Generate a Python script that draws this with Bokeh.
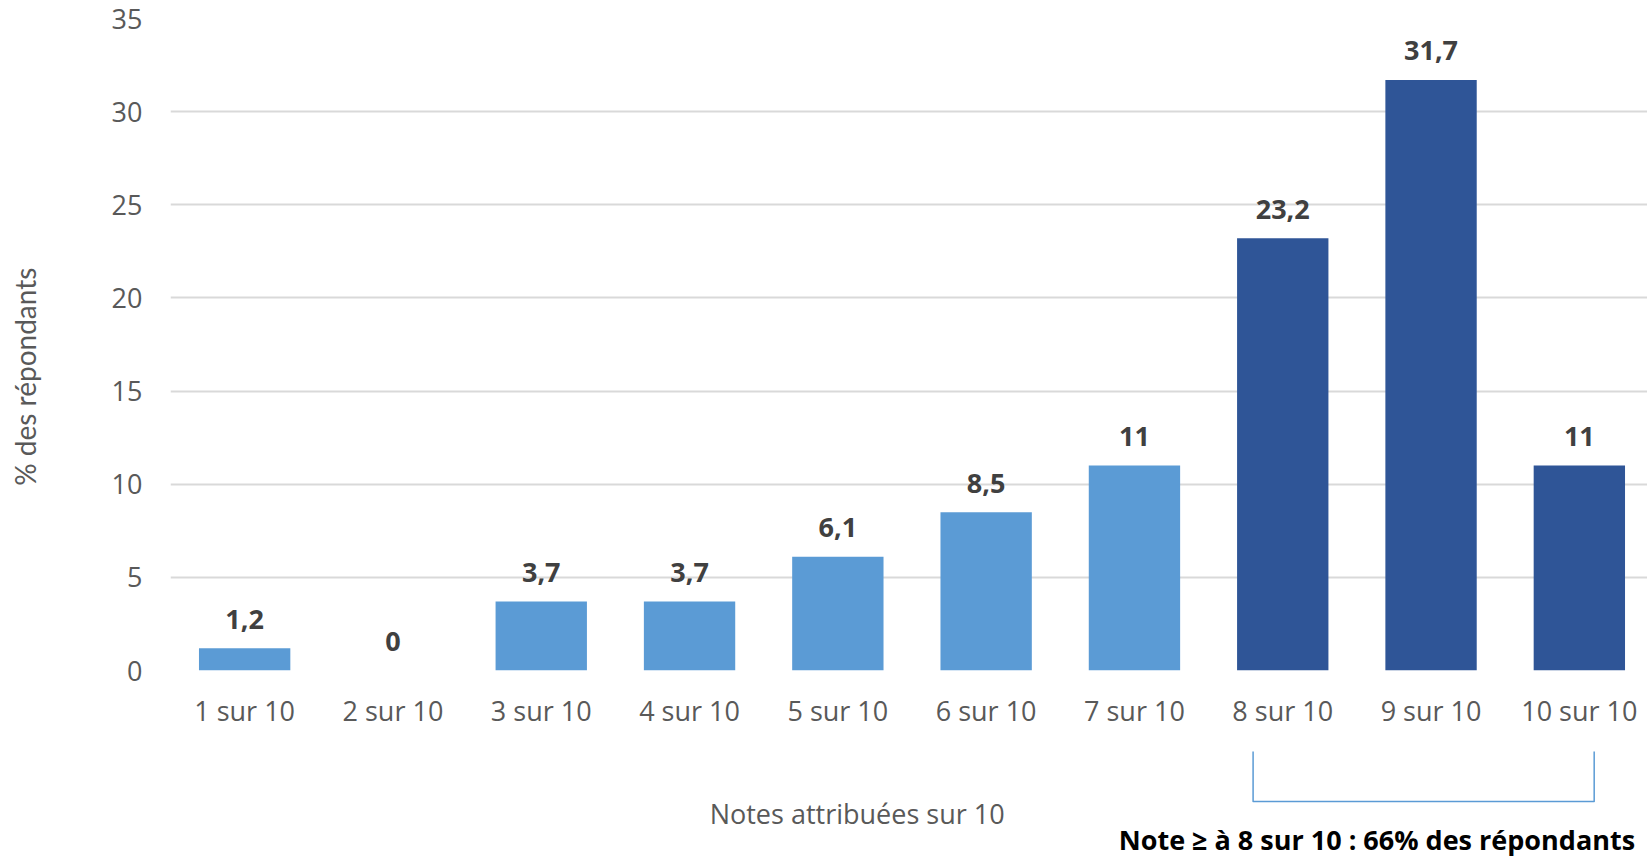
from bokeh.plotting import figure
from bokeh.layouts import column
from bokeh.models import ColumnDataSource, FixedTicker, Range1d
from bokeh.core.properties import value
from bokeh.embed import file_html
from bokeh.resources import INLINE

categories = ["1 sur 10", "2 sur 10", "3 sur 10", "4 sur 10", "5 sur 10",
              "6 sur 10", "7 sur 10", "8 sur 10", "9 sur 10", "10 sur 10"]
values = [1.2, 0, 3.7, 3.7, 6.1, 8.5, 11, 23.2, 31.7, 11]
highlight = [False, False, False, False, False, False, False, True, True, True]
y_ticks = [0, 5, 10, 15, 20, 25, 30, 35]
x_title = "Notes attribuées sur 10"
y_title = "% des répondants"
note = "Note ≥ à 8 sur 10 : 66% des répondants"

LIGHT = "#5B9BD5"
DARK = "#2F5597"
FONT = "Open Sans"

xs = list(range(1, len(categories) + 1))
labels = [f"{v:g}".replace(".", ",") for v in values]
colors = [DARK if h else LIGHT for h in highlight]
src = ColumnDataSource(dict(x=xs, top=values, label=labels, color=colors))

frame_w, frame_h = 1477, 652
cat_px = 148.3
unit_px = frame_h / 35.0
left_border = 170
x_range = Range1d(0.5, 0.5 + frame_w / cat_px)

# ---- main chart ----
top_border, bottom_border = 18, 60
p = figure(frame_width=frame_w, frame_height=frame_h,
           min_border_left=left_border, min_border_right=0,
           min_border_top=top_border, min_border_bottom=bottom_border,
           x_range=x_range, y_range=Range1d(0, 35),
           output_backend="svg", toolbar_location=None)
p.outline_line_color = None

p.vbar(x="x", top="top", width=0.616, fill_color="color", line_color=None,
       source=src)
p.text(x="x", y="top", text="label", source=src, text_align="center",
       text_baseline="alphabetic", y_offset=-29, text_font=value(FONT),
       text_font_style="bold", text_font_size="27px", text_color="#404040")

p.xaxis.ticker = FixedTicker(ticks=xs)
p.xaxis.major_label_overrides = {x: c for x, c in zip(xs, categories)}
p.yaxis.ticker = FixedTicker(ticks=y_ticks)
for ax in (p.xaxis[0], p.yaxis[0]):
    ax.axis_line_color = None
    ax.major_tick_line_color = None
    ax.minor_tick_line_color = None
    ax.major_label_text_font = FONT
    ax.major_label_text_font_size = "27px"
    ax.major_label_text_color = "#595959"
p.xaxis.major_label_standoff = 15
p.yaxis.major_label_standoff = 22

p.yaxis.axis_label = y_title + "\u00a0" * 9
p.yaxis.axis_label_text_font = "Lato"
p.yaxis.axis_label_text_font_style = "normal"
p.yaxis.axis_label_text_font_size = "28px"
p.yaxis.axis_label_text_color = "#595959"
p.yaxis.axis_label_standoff = 67

p.xgrid.grid_line_color = None
p.ygrid.grid_line_color = "#D9D9D9"
p.ygrid.grid_line_width = 2

# ---- area under the chart: axis title, bracket and note ----
below_h = 127
y_top = -bottom_border / unit_px
q = figure(frame_width=frame_w, frame_height=below_h,
           min_border_left=left_border, min_border_right=0,
           min_border_top=0, min_border_bottom=0,
           x_range=x_range, y_range=Range1d(y_top - below_h / unit_px, y_top),
           x_axis_location=None, y_axis_location=None,
           output_backend="svg", toolbar_location=None)
q.outline_line_color = None
q.xgrid.grid_line_color = None
q.ygrid.grid_line_color = None

q.text(x=[5.13], y=[-7.62], text=[x_title], text_align="center",
       text_baseline="middle", text_font=value(FONT), text_font_size="27px",
       text_color="#595959")

bl, br = xs[7] - 0.20, xs[9] + 0.10
bt, bb = -4.29, -6.98
q.line(x=[bl, bl, br, br], y=[bt, bb, bb, bt], line_color=LIGHT,
       line_width=1.5, line_join="round")

q.text(x=[8.635], y=[-9.0], text=[note], text_align="center",
       text_baseline="alphabetic", text_font=value(FONT),
       text_font_style="bold", text_font_size="27px", text_color="#000000")

layout = column(p, q, spacing=0)
open("out.html", "w").write(file_html(layout, INLINE))
